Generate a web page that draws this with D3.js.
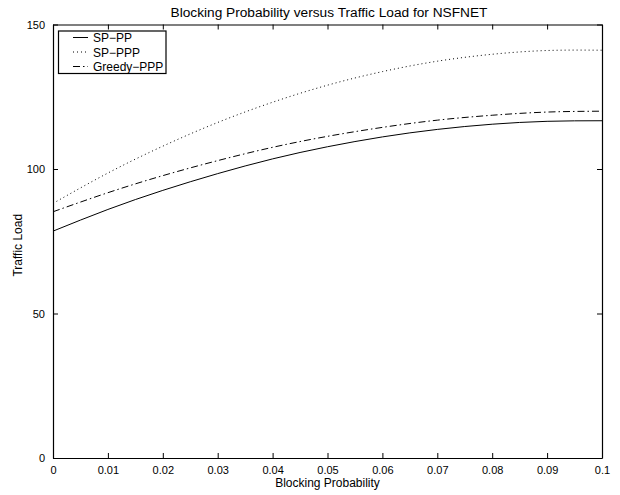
<!DOCTYPE html>
<html>
<head>
<meta charset="utf-8">
<script src="https://cdn.jsdelivr.net/npm/d3@7"></script>
<style>
  html, body { margin: 0; padding: 0; background: #fff; }
  svg { display: block; }
  text { font-family: "Liberation Sans", Arial, Helvetica, sans-serif; fill: #000; }
</style>
</head>
<body>
<svg id="chart" width="620" height="495"></svg>
<script>
// ---- data ----
const blockingProb = [0, 0.01, 0.02, 0.03, 0.04, 0.05, 0.06, 0.07, 0.08, 0.09, 0.1];
const spPP      = [78.5, 86.0, 92.6, 98.4, 103.5, 107.7, 111.1, 113.7, 115.5, 116.5, 116.7];
const spPPP     = [88.1, 98.6, 107.9, 116.1, 123.1, 129.0, 133.7, 137.3, 139.7, 141.0, 141.1];
const greedyPPP = [85.2, 91.8, 97.7, 102.9, 107.5, 111.3, 114.4, 116.9, 118.6, 119.7, 120.0];
const seriesNames = ["SP\u2212PP", "SP\u2212PPP", "Greedy\u2212PPP"];
const xTicks = [0, 0.01, 0.02, 0.03, 0.04, 0.05, 0.06, 0.07, 0.08, 0.09, 0.1];
const yTicks = [0, 50, 100, 150];
const titleText = "Blocking Probability versus Traffic Load for NSFNET";
const xLabel = "Blocking Probability";
const yLabel = "Traffic Load";

// ---- layout ----
const svg = d3.select("#chart");
const L = 53, R = 602, T = 24.5, B = 458;
const x = d3.scaleLinear().domain([0, 0.1]).range([L, R]);
const y = d3.scaleLinear().domain([0, 150]).range([B, T]);

const styles = [
  { dash: null },
  { dash: "1,3" },
  { dash: "7,3,1.5,3" }
];
const seriesData = [spPP, spPPP, greedyPPP];

// axes (MATLAB style: inward ticks on all four sides)
const fmtX = d => (d === 0 ? "0" : d3.format("")(+d.toFixed(2)));
const gB = svg.append("g").attr("transform", `translate(0,${B})`)
  .call(d3.axisBottom(x).tickValues(xTicks).tickSizeInner(-5).tickSizeOuter(0).tickPadding(8).tickFormat(fmtX));
const gT = svg.append("g").attr("transform", `translate(0,${T})`)
  .call(d3.axisTop(x).tickValues(xTicks).tickSizeInner(-5).tickSizeOuter(0).tickFormat(""));
const gL = svg.append("g").attr("transform", `translate(${L},0)`)
  .call(d3.axisLeft(y).tickValues(yTicks).tickSizeInner(-5).tickSizeOuter(0).tickPadding(8));
const gR = svg.append("g").attr("transform", `translate(${R},0)`)
  .call(d3.axisRight(y).tickValues(yTicks).tickSizeInner(-5).tickSizeOuter(0).tickFormat(""));

[gB, gT, gL, gR].forEach(g => {
  g.selectAll("path.domain").attr("stroke", "#000").attr("stroke-width", 1.2);
  g.selectAll(".tick line").attr("stroke", "#000").attr("stroke-width", 1);
  g.selectAll(".tick text").style("font-family", "Liberation Sans, Arial, sans-serif").style("font-size", "11px").attr("fill", "#000");
});

// curves
const line = d3.line()
  .x((d, i) => x(blockingProb[i]))
  .y(d => y(d))
  .curve(d3.curveNatural);

const plot = svg.append("g");
seriesData.forEach((vals, k) => {
  plot.append("path")
    .datum(vals)
    .attr("d", line)
    .attr("fill", "none")
    .attr("stroke", "#000")
    .attr("stroke-width", 1)
    .attr("stroke-dasharray", styles[k].dash);
});

// title and labels
svg.append("text").attr("x", 329).attr("y", 17)
  .attr("text-anchor", "middle").style("font-size", "13.7px").text(titleText);
svg.append("text").attr("x", (L + R) / 2).attr("y", 487)
  .attr("text-anchor", "middle").style("font-size", "12px").text(xLabel);
svg.append("text").attr("transform", `translate(22,${(T + B) / 2 + 4}) rotate(-90)`)
  .attr("text-anchor", "middle").style("font-size", "12px").text(yLabel);

// legend
const lg = svg.append("g");
lg.append("rect").attr("x", 58.5).attr("y", 31).attr("width", 107.5).attr("height", 42.5)
  .attr("fill", "#fff").attr("stroke", "#000").attr("stroke-width", 1.2);
seriesNames.forEach((name, k) => {
  const yy = 37.5 + k * 14.5;
  lg.append("line").attr("x1", 73).attr("x2", 88).attr("y1", yy).attr("y2", yy)
    .attr("stroke", "#000").attr("stroke-width", 1).attr("stroke-dasharray", styles[k].dash);
  lg.append("text").attr("x", 93).attr("y", yy + 4.5).style("font-size", "12px").text(name);
});
</script>
</body>
</html>
